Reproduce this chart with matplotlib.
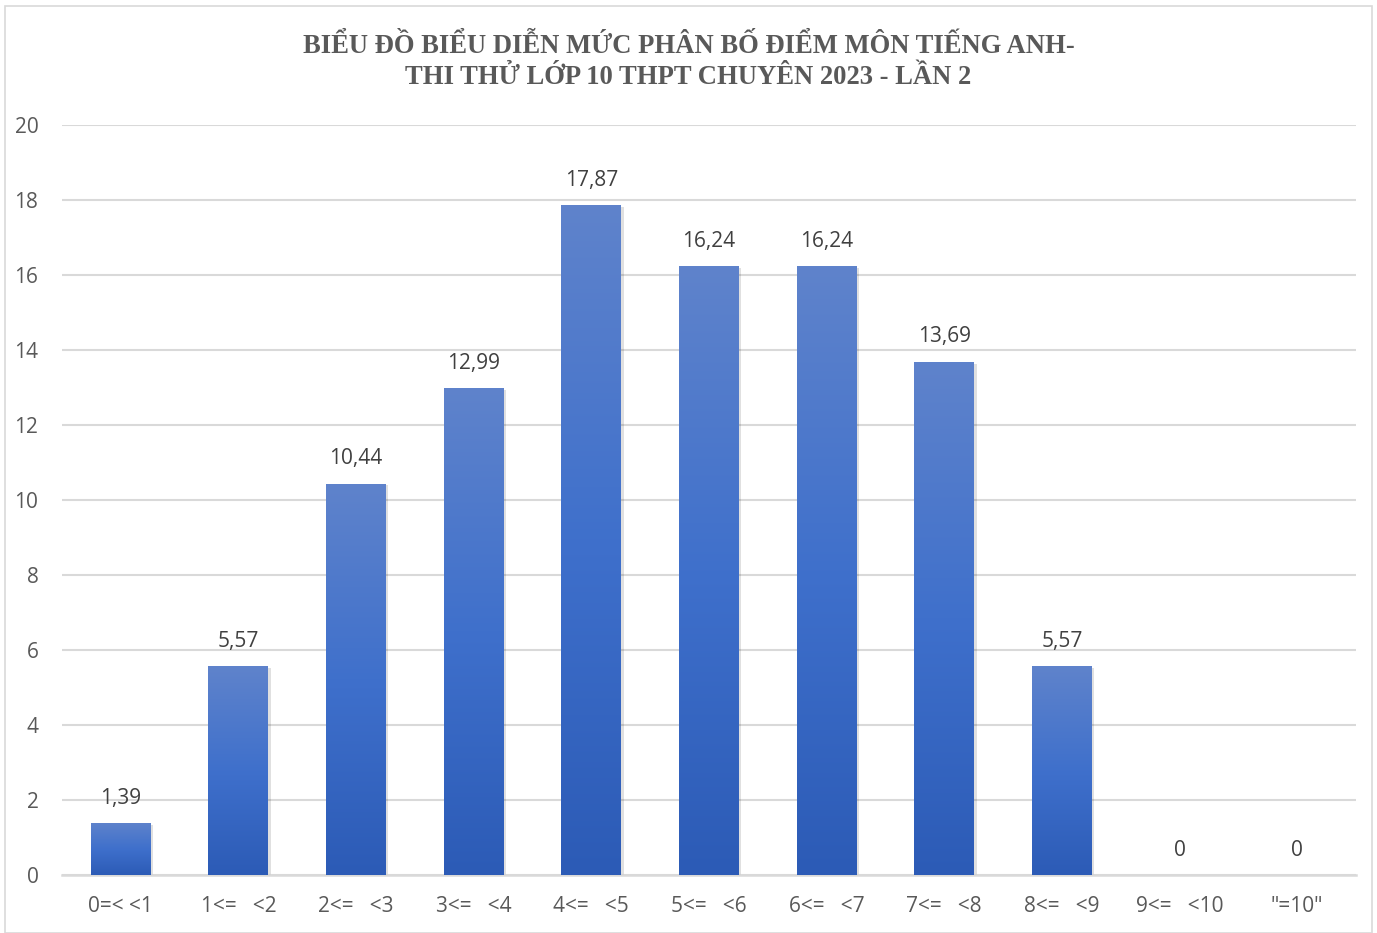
import numpy as np
import matplotlib.pyplot as plt
from matplotlib.patches import Rectangle
from matplotlib.colors import LinearSegmentedColormap

# data
categories = ['0=< <1', '1<=   <2', '2<=   <3', '3<=   <4', '4<=   <5', '5<=   <6',
              '6<=   <7', '7<=   <8', '8<=   <9', '9<=   <10', '"=10"']
values = [1.39, 5.57, 10.44, 12.99, 17.87, 16.24, 16.24, 13.69, 5.57, 0, 0]
labels = ['1,39', '5,57', '10,44', '12,99', '17,87', '16,24', '16,24', '13,69', '5,57', '0', '0']

W, H = 1377, 933
fig = plt.figure(figsize=(W / 100, H / 100), dpi=100)

# chart frame
fig.patches.append(Rectangle((5 / W, 0), (1372 - 5) / W, (H - 6) / H, transform=fig.transFigure,
                             fill=False, edgecolor='#D9D9D9', linewidth=1.2))

left, right, bottom, top = 62, 1356, 875, 125
ax = fig.add_axes([left / W, 1 - bottom / H, (right - left) / W, (bottom - top) / H])

x = np.arange(len(categories))
width = 0.51
cmap = LinearSegmentedColormap.from_list('bar', ['#2C5BB6', '#3F70CC', '#5F83CB'])
grad = np.linspace(0, 1, 256).reshape(-1, 1)

for xi, v in zip(x, values):
    if v <= 0:
        continue
    # soft shadow
    ax.add_patch(Rectangle((xi - width / 2 + 0.02, -0.05), width, v, facecolor='#000000',
                           alpha=0.12, edgecolor='none', zorder=2))
    r = Rectangle((xi - width / 2, 0), width, v, facecolor='none', edgecolor='none', zorder=3)
    ax.add_patch(r)
    im = ax.imshow(grad, cmap=cmap, aspect='auto', origin='lower',
                   extent=(xi - width / 2, xi + width / 2, 0, v), zorder=3)
    im.set_clip_path(r)

for xi, v, lab in zip(x, values, labels):
    ax.text(xi, v + 0.38, lab, ha='center', va='bottom', fontsize=15, color='#404040',
            family='Open Sans')

ax.set_xlim(-0.5, len(categories) - 0.5)
ax.set_ylim(0, 20)
ax.set_yticks(np.arange(0, 21, 2))
ax.set_xticks(x)
ax.set_xticklabels(categories)
ax.grid(axis='y', color='#D9D9D9', linewidth=1.5, zorder=0)
ax.set_axisbelow(True)
for s in ['top', 'right', 'left']:
    ax.spines[s].set_visible(False)
ax.spines['bottom'].set_color('#D9D9D9')
ax.spines['bottom'].set_linewidth(1.8)
ax.tick_params(length=0, labelsize=15, labelcolor='#595959', pad=15)
ax.tick_params(axis='y', pad=17)
for t in ax.get_xticklabels() + ax.get_yticklabels():
    t.set_family('Open Sans')

fig.text(0.5, 1 - 46 / H, 'BIỂU ĐỒ BIỂU DIỄN MỨC PHÂN BỐ ĐIỂM MÔN TIẾNG ANH-',
         ha='center', va='center', fontsize=19.2, fontweight='bold', color='#595959',
         family='Liberation Serif')
fig.text(0.5, 1 - 77 / H, 'THI THỬ LỚP 10 THPT CHUYÊN 2023 - LẦN 2',
         ha='center', va='center', fontsize=19.2, fontweight='bold', color='#595959',
         family='Liberation Serif')

fig.savefig('out.png', dpi=100)
